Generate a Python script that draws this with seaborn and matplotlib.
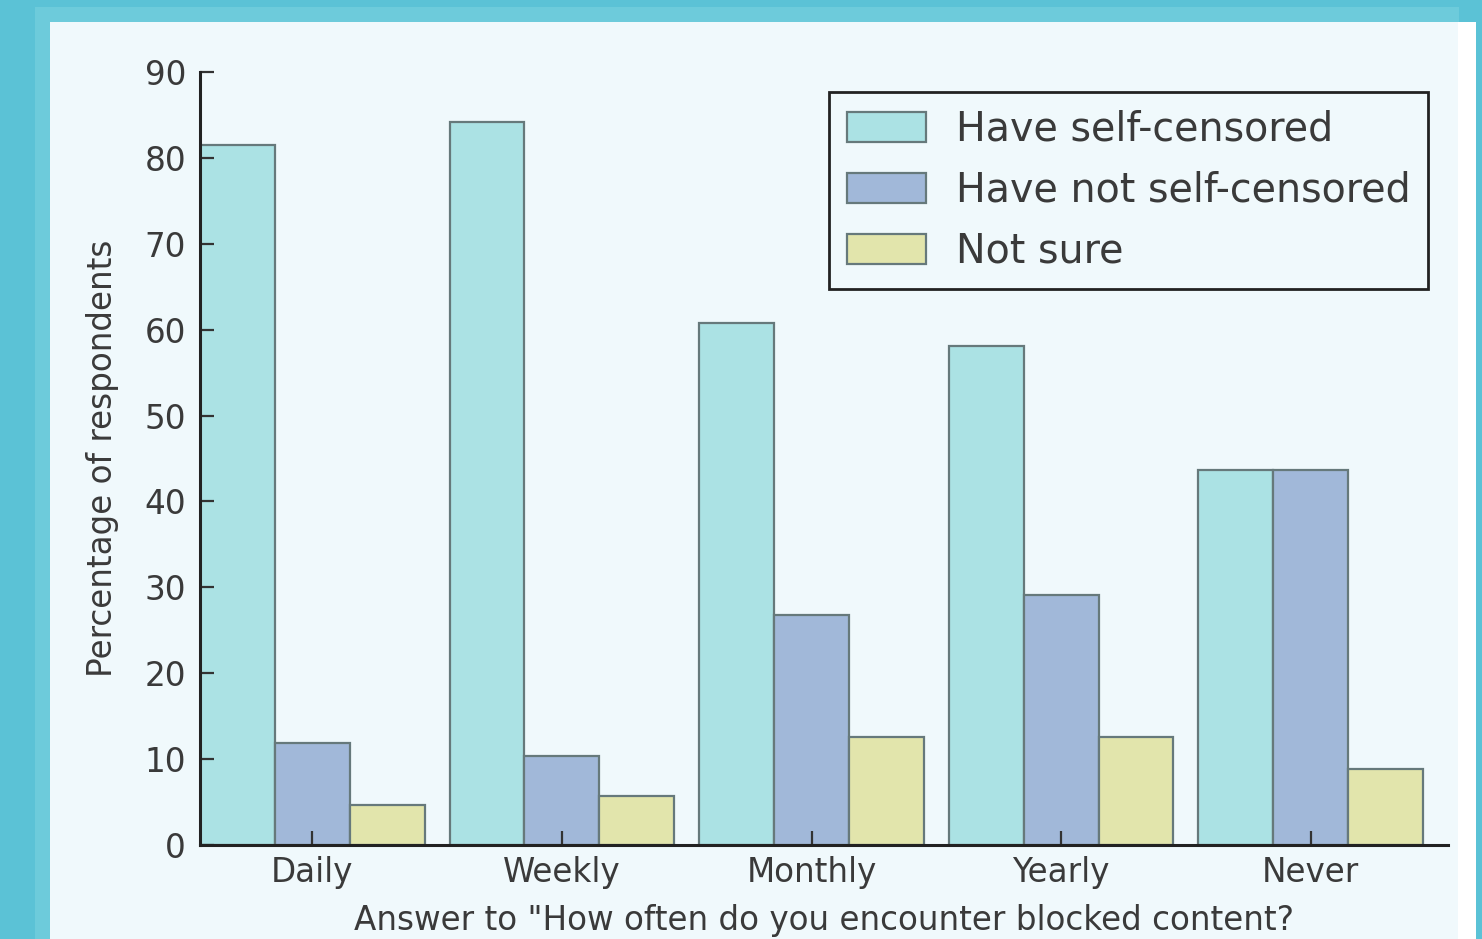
import matplotlib
matplotlib.use("Agg")
import matplotlib.pyplot as plt
import seaborn as sns
import pandas as pd
from matplotlib.patches import Rectangle

categories = ["Daily", "Weekly", "Monthly", "Yearly", "Never"]
series_names = ["Have self-censored", "Have not self-censored", "Not sure"]
self_censored = [81.5, 84.2, 60.8, 58.1, 43.7]
not_self_censored = [11.9, 10.4, 26.8, 29.1, 43.7]
not_sure = [4.6, 5.7, 12.6, 12.6, 8.8]
yticks = [0, 10, 20, 30, 40, 50, 60, 70, 80, 90]
colors = ["#abe2e4", "#a1b8d9", "#e2e5ac"]

rows = []
for name, vals in zip(series_names, [self_censored, not_self_censored, not_sure]):
    for c, v in zip(categories, vals):
        rows.append({"freq": c, "group": name, "pct": v})
df = pd.DataFrame(rows)

sns.set_style("white")
plt.rcParams["font.family"] = ["DejaVu Sans"]
text_color = "#3a3a3a"

fig = plt.figure(figsize=(14.82, 9.39), dpi=100)
fig.patch.set_facecolor("#5bc2d6")
# lighter band and inner panel
fig.patches.append(Rectangle((35/1482, 0), (1459-35)/1482, 1-7/939, transform=fig.transFigure,
                             facecolor="#6dcbdb", edgecolor="none", zorder=-3))
fig.patches.append(Rectangle((1458/1482, 0), 18/1482, 1-22/939, transform=fig.transFigure,
                             facecolor="#ffffff", edgecolor="none", zorder=-2))
fig.patches.append(Rectangle((50/1482, 0), (1458-50)/1482, 1-22/939, transform=fig.transFigure,
                             facecolor="#f0f9fc", edgecolor="none", zorder=-1))

ax = fig.add_axes([200/1482, 1-845/939, (1448-200)/1482, (845-72)/939])
ax.set_facecolor("#f0f9fc")

sns.barplot(data=df, x="freq", y="pct", hue="group", order=categories,
            hue_order=series_names, palette=colors, width=0.9, gap=0,
            edgecolor="#66797b", linewidth=1.6, saturation=1, ax=ax)

ax.set_axisbelow(False)
ax.set_xlim(-0.45, 4.55)
ax.set_ylim(0, 90)
ax.set_yticks(yticks)
ax.set_yticklabels([str(t) for t in yticks])

for s in ["top", "right"]:
    ax.spines[s].set_visible(False)
for s in ["left", "bottom"]:
    ax.spines[s].set_color("#222222")
    ax.spines[s].set_linewidth(2.2)
    ax.spines[s].set_zorder(5)

ax.tick_params(axis="both", which="major", bottom=True, left=True, top=False, right=False,
               direction="in", length=10, width=1.6, color="#333333",
               labelsize=23.5, labelcolor=text_color, pad=10)
ax.tick_params(axis="x", pad=8)

ax.set_xlabel('Answer to "How often do you encounter blocked content?', fontsize=23.5,
              color=text_color, labelpad=11)
ax.set_ylabel("Percentage of respondents", fontsize=23.5, color=text_color, labelpad=18)

leg = ax.legend(loc="upper right", fontsize=28.5, frameon=True, fancybox=False,
                handlelength=2.0, handleheight=0.77, borderaxespad=0.5,
                borderpad=0.45, labelspacing=0.53, handletextpad=0.75)
leg.get_frame().set_edgecolor("#222222")
leg.get_frame().set_linewidth(2)
leg.get_frame().set_facecolor("#f0f9fc")
leg.get_frame().set_alpha(1)
leg.set_zorder(10)
for t in leg.get_texts():
    t.set_color(text_color)
leg.set_title(None)

fig.savefig("out.png", dpi=100, facecolor=fig.get_facecolor())
